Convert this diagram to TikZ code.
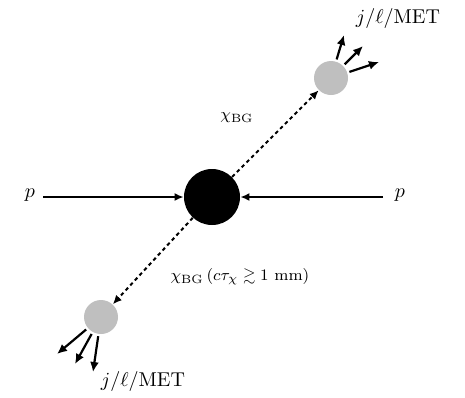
\documentclass[tikz,border=0pt]{standalone}
\usepackage{amssymb}
\usetikzlibrary{arrows.meta}
\begin{document}
\begin{tikzpicture}[x=0.5pt,y=-0.5pt,
  arr/.style={line width=0.9pt,-{Latex[length=4.5pt,width=4pt]}},
  oarr/.style={line width=1.1pt,-{Latex[length=5pt,width=4.5pt]}},
  darr/.style={line width=1pt,dash pattern=on 1.8pt off 1.6pt,-{Latex[length=4.5pt,width=4pt]}},
  vtx/.style={circle,fill=black,minimum size=28pt,inner sep=0pt},
  dec/.style={circle,fill=gray!50,minimum size=17pt,inner sep=0pt},
  lbl/.style={inner sep=1pt}]
\useasboundingbox (0,0) rectangle (465,397);
\node[vtx] (v) at (212,197) {};
\node[dec] (g1) at (331,78) {};
\node[dec] (g2) at (101,317) {};
\coordinate (pl) at (43,197);
\coordinate (pr) at (383,197);
\node[lbl] (lp1) at (30,195) {$p$};
\node[lbl] (lp2) at (400,195) {$p$};
\draw[arr] (pl) -- (v);
\draw[arr] (pr) -- (v);
\draw[darr] (v) -- (g1);
\draw[darr] (v) -- (g2);
\coordinate (a1) at (344,35);
\coordinate (a2) at (363,46);
\coordinate (a3) at (379,62);
\coordinate (b1) at (57,354);
\coordinate (b2) at (75,364);
\coordinate (b3) at (93,372);
\draw[oarr,shorten <=1pt] (g1) -- (a1);
\draw[oarr,shorten <=1pt] (g1) -- (a2);
\draw[oarr,shorten <=1pt] (g1) -- (a3);
\draw[oarr,shorten <=1pt] (g2) -- (b1);
\draw[oarr,shorten <=1pt] (g2) -- (b2);
\draw[oarr,shorten <=1pt] (g2) -- (b3);
\node[lbl] (t1) at (398,18) {$j/\ell/\mathrm{MET}$};
\node[lbl] (t2) at (143,381) {$j/\ell/\mathrm{MET}$};
\node[lbl,font=\footnotesize] (c1) at (237,118) {$\chi_{\rm BG}$};
\node[lbl,font=\footnotesize] (c2) at (240,277) {$\chi_{\rm BG}\,(c\tau_\chi \gtrsim 1~\mathrm{mm})$};
\end{tikzpicture}
\end{document}
